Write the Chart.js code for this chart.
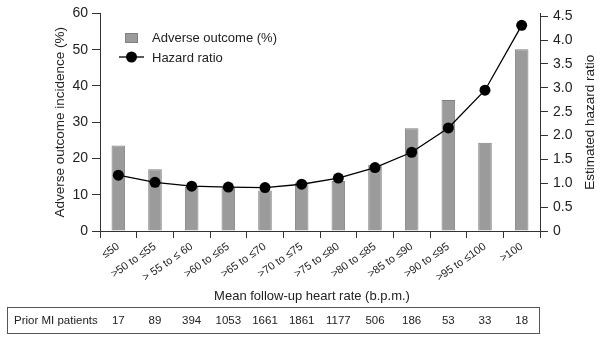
<!DOCTYPE html>
<html>
<head>
<meta charset="utf-8">
<script src="https://cdn.jsdelivr.net/npm/chart.js@4.4.1/dist/chart.umd.min.js"></script>
<style>
  html, body { margin: 0; padding: 0; background: #fff; }
</style>
</head>
<body>
<canvas id="c" width="601" height="341"></canvas>
<script>
// categories (mean follow-up heart rate bins)
const heartRateBins = ['≤50', '>50 to ≤55', '> 55 to ≤ 60', '>60 to ≤65', '>65 to ≤70', '>70 to ≤75',
                       '>75 to ≤80', '>80 to ≤85', '>85 to ≤90', '>90 to ≤95', '>95 to ≤100', '>100'];
// adverse outcome incidence (%) - bars, left axis
const adverseOutcome = [23.6, 17.0, 12.2, 12.0, 11.2, 13.4, 13.8, 18.3, 28.3, 36.1, 24.3, 50.1];
// estimated hazard ratio - line, right axis
const hazardRatio = [1.17, 1.02, 0.94, 0.92, 0.91, 0.98, 1.11, 1.33, 1.65, 2.16, 2.95, 4.31];
// patients with prior MI per bin (table under the chart)
const priorMiPatients = [17, 89, 394, 1053, 1661, 1861, 1177, 506, 186, 53, 33, 18];
// right axis tick values
const hrTicks = [0, 0.5, 1, 1.5, 2, 2.5, 3, 3.5, 4, 4.5];

const FONT = "'Liberation Sans', Arial, sans-serif";
const INK = '#222';
const BAR_FILL = '#9b9b9b';
const BAR_EDGE = '#808080';

// titles, legend and the patient table are drawn here
const extras = {
  id: 'extras',
  afterDraw(chart) {
    const { ctx, chartArea: a, scales: { x } } = chart;
    ctx.save();
    ctx.fillStyle = INK;
    ctx.textBaseline = 'middle';

    // axis titles
    ctx.font = '13.5px ' + FONT;
    ctx.textAlign = 'center';
    ctx.save();
    ctx.translate(60, (a.top + a.bottom) / 2);
    ctx.rotate(-Math.PI / 2);
    ctx.fillText('Adverse outcome incidence (%)', 0, 0);
    ctx.restore();
    ctx.save();
    ctx.translate(590, (a.top + a.bottom) / 2);
    ctx.rotate(-Math.PI / 2);
    ctx.fillText('Estimated hazard ratio', 0, 0);
    ctx.restore();
    ctx.font = '13px ' + FONT;
    ctx.fillText('Mean follow-up heart rate (b.p.m.)', 312, 296);

    // legend
    ctx.font = '13px ' + FONT;
    ctx.textAlign = 'left';
    ctx.fillStyle = BAR_FILL;
    ctx.fillRect(125, 33, 13, 10);
    ctx.strokeStyle = BAR_EDGE;
    ctx.lineWidth = 1;
    ctx.strokeRect(125.5, 33.5, 12, 9);
    ctx.fillStyle = INK;
    ctx.fillText(chart.data.datasets[1].label, 152, 38);
    ctx.strokeStyle = '#000';
    ctx.lineWidth = 1.3;
    ctx.beginPath();
    ctx.moveTo(119, 57);
    ctx.lineTo(144, 57);
    ctx.stroke();
    ctx.fillStyle = '#000';
    ctx.beginPath();
    ctx.arc(131.5, 57, 5.5, 0, Math.PI * 2);
    ctx.fill();
    ctx.fillStyle = INK;
    ctx.fillText(chart.data.datasets[0].label, 152, 58);

    // prior MI table
    ctx.strokeStyle = '#555';
    ctx.lineWidth = 1;
    ctx.strokeRect(7.5, 307.5, 532, 26);
    ctx.font = '11.5px ' + FONT;
    ctx.fillText('Prior MI patients', 14, 321);
    ctx.textAlign = 'center';
    priorMiPatients.forEach((n, i) => {
      ctx.fillText(String(n), x.getPixelForValue(i), 321);
    });
    ctx.restore();
  }
};

new Chart(document.getElementById('c'), {
  data: {
    labels: heartRateBins,
    datasets: [
      {
        type: 'line',
        label: 'Hazard ratio',
        data: hazardRatio,
        yAxisID: 'y1',
        borderColor: '#000',
        borderWidth: 1.3,
        pointRadius: 5.5,
        pointBackgroundColor: '#000',
        pointBorderWidth: 0,
        tension: 0,
        order: 0
      },
      {
        type: 'bar',
        label: 'Adverse outcome (%)',
        data: adverseOutcome,
        yAxisID: 'y',
        backgroundColor: BAR_FILL,
        borderColor: BAR_EDGE,
        borderWidth: 1,
        barPercentage: 0.37,
        categoryPercentage: 1,
        order: 1
      }
    ]
  },
  options: {
    responsive: false,
    animation: false,
    devicePixelRatio: 1,
    layout: { padding: { top: 12, left: 0, right: 0, bottom: 0 } },
    plugins: {
      legend: { display: false },
      tooltip: { enabled: false }
    },
    scales: {
      x: {
        offset: true,
        grid: { display: true, drawOnChartArea: false, offset: true, tickLength: 7, color: '#333' },
        border: { color: '#333', width: 1 },
        ticks: {
          autoSkip: false, minRotation: 35, maxRotation: 35, padding: 2,
          color: INK, font: { family: FONT, size: 11 }
        },
        afterFit(s) { s.height = 110; }
      },
      y: {
        position: 'left',
        min: 0, max: 60,
        grid: { drawOnChartArea: false, tickLength: 8, color: '#333' },
        border: { color: '#333', width: 1 },
        ticks: { stepSize: 10, padding: 4, color: INK, font: { family: FONT, size: 14 } },
        afterFit(s) { s.width = 100; }
      },
      y1: {
        position: 'right',
        min: 0, max: 4.56,
        grid: { drawOnChartArea: false, tickLength: 8, color: '#333' },
        border: { color: '#333', width: 1 },
        ticks: {
          padding: 5, color: INK, font: { family: FONT, size: 14 },
          callback: v => v === 0 ? '0' : v.toFixed(1)
        },
        afterBuildTicks(s) { s.ticks = hrTicks.map(v => ({ value: v })); },
        afterFit(s) { s.width = 61; }
      }
    }
  },
  plugins: [extras]
});
</script>
</body>
</html>
